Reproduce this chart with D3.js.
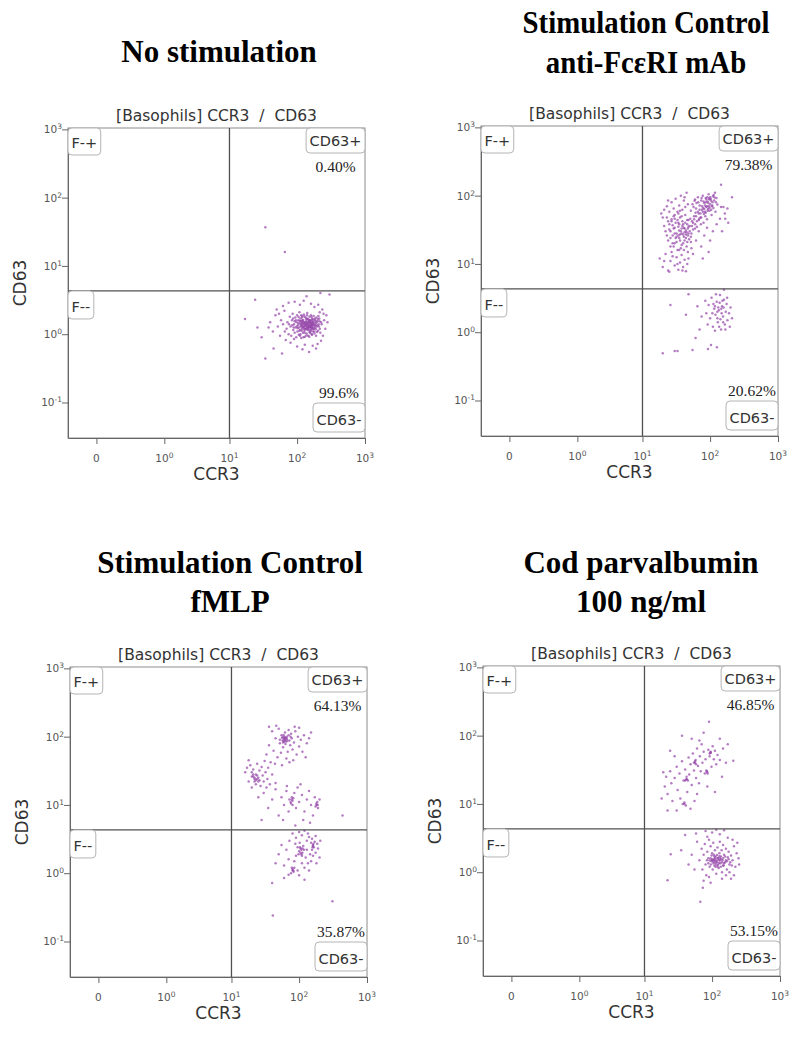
<!DOCTYPE html>
<html>
<head>
<meta charset="utf-8">
<script src="https://cdn.jsdelivr.net/npm/d3@7"></script>
<style>
  body { margin: 0; background: #fff; }
</style>
</head>
<body>
<div id="main"></div>
<script>
// panel headings (one entry per line)
const panelTitles = [
  ["No stimulation"],
  ["Stimulation Control", "anti-Fc\u03b5RI mAb"],
  ["Stimulation Control", "fMLP"],
  ["Cod parvalbumin", "100 ng/ml"]
];
const plotTitle = "[Basophils] CCR3\u00a0\u00a0/\u00a0\u00a0CD63";
const xLabel = "CCR3";
const yLabel = "CD63";
const quadNames = ["F-+", "CD63+", "F--", "CD63-"];
const upperPct = ["0.40%", "79.38%", "64.13%", "46.85%"];
const lowerPct = ["99.6%", "20.62%", "35.87%", "53.15%"];
const gateX = 10, gateY = 4.3;
const xMajor = [0, 1, 10, 100, 1000];
const xMajorExp = [null, "0", "1", "2", "3"];
const yMajor = [1000, 100, 10, 1, 0.1];
const yMajorExp = ["3", "2", "1", "0", "-1"];

// events, [CCR3, CD63]
const noStimPoints = [
  [34,37],[66,16],[34,0.44],[17,1.67],[24,3.2],[220,4.0],[138,3.6],[300,3.8],[45,0.62],[60,0.52],
  [150,0.55],[190,0.62],[270,1.9],[26,1.25],[30,0.9],
  [40,1.5],[44,1.1],[48,1.9],[52,1.3],[38,1.25],[56,0.95],[50,2.3],[62,2.6],[75,2.9],[92,3.0],
  [110,2.7],[125,3.1],[160,2.8],[180,2.5],[205,2.7],[235,2.3],[250,1.6],[260,1.2],[240,0.95],[225,0.8],
  [200,0.72],[170,0.68],[130,0.7],[100,0.66],[80,0.75],[68,0.82],[58,1.6],[54,2.0],[65,2.2],[230,1.4],
  [215,2.1],[280,1.5],[245,2.0],[120,0.6],[90,0.85],
  [70,1.2],[72,1.5],[75,1.0],[78,1.8],[80,1.3],[82,0.95],[84,1.6],[86,2.0],[88,1.15],[90,1.4],
  [92,1.05],[94,1.75],[95,1.25],[97,0.9],[98,1.5],[100,1.9],[101,1.1],[103,1.35],[104,1.6],[106,0.98],
  [107,1.25],[108,2.1],[110,1.45],[111,1.15],[112,1.7],[114,1.3],[115,0.88],[116,1.55],[118,1.2],[119,1.85],
  [120,1.4],[122,1.05],[123,1.62],[125,1.28],[126,1.95],[128,1.12],[129,1.48],[130,0.92],[132,1.35],[133,1.75],
  [135,1.2],[136,1.55],[138,1.02],[140,1.4],[141,2.05],[143,1.25],[145,1.65],[146,0.95],[148,1.45],[150,1.15],
  [152,1.8],[154,1.32],[155,1.05],[157,1.58],[159,1.22],[160,1.9],[162,1.4],[164,1.0],[166,1.68],[168,1.25],
  [170,1.5],[172,1.1],[175,1.85],[177,1.35],[180,1.02],[182,1.6],[185,1.25],[188,1.45],[190,0.95],[193,1.75],
  [196,1.3],[200,1.55],[204,1.12],[208,1.4],[212,1.7],[216,1.2],[220,1.05],[225,1.5],[112,1.0],[118,1.75],
  [124,1.42],[131,1.18],[137,1.66],[142,1.3],[147,1.52],[153,1.08],[158,1.38],[163,1.6],[169,1.18],[174,1.42],
  [96,1.6],[102,1.22],[109,1.58],[113,1.38],[117,1.12],[121,1.52],[127,1.32],[134,1.42],[139,1.22],[144,1.5],
  [149,1.28],[156,1.48],[161,1.28],[167,1.36],[178,1.2],[186,1.36],[85,1.35],[76,1.4],[66,1.1],[62,1.4],
  [99,1.3],[104,1.45],[108,1.12],[113,1.55],[116,1.35],[119,1.6],[122,1.25],[126,1.5],[129,1.05],[133,1.3],
  [136,1.48],[139,1.7],[142,1.15],[146,1.35],[149,1.62],[151,1.25],[155,1.5],[158,1.1],[161,1.45],[165,1.3],
  [168,1.55],[171,1.22],[176,1.48],[181,1.32],[184,1.7],[189,1.18],[194,1.5],[199,1.35],[203,1.65],[92,1.55],
  [89,1.25],[87,1.7],[105,1.78],[115,1.9],[128,1.82],[140,1.9],[152,1.62],[163,1.78],[173,1.65],[187,1.58],
  [110,0.95],[124,0.9],[137,0.96],[151,0.92],[166,0.98],[179,1.1],[196,1.08],[210,1.3],[214,1.55],[206,1.85],
  [120,1.3],[131,1.42],[144,1.2],[157,1.3],[170,1.4],[127,1.2],[138,1.35],[148,1.38],[160,1.15],[117,1.45]
];

const antiFcePoints = [
  [22,30],[24,22],[25,38],[26,18],[27,45],[28,26],[29,33],[30,20],[31,40],[32,28],
  [33,16],[34,35],[35,24],[36,48],[37,30],[38,19],[39,42],[40,27],[41,34],[42,22],
  [43,52],[44,31],[45,18],[46,38],[47,26],[48,44],[50,30],[52,21],[54,36],[23,26],
  [25,32],[27,15],[29,50],[31,24],[33,44],[35,31],[37,17],[39,36],[41,25],[43,40],
  [45,29],[47,33],[49,23],[51,46],[53,28],[21,36],[24,42],[28,37],[32,21],[36,27],
  [40,20],[44,24],[30,28],[34,26],[38,33],[42,29],[46,21],[26,24],[35,38],[48,35],
  [52,60],[55,75],[58,50],[60,88],[62,65],[64,42],[66,95],[68,55],[70,72],[72,48],
  [74,85],[76,62],[78,100],[80,40],[82,78],[84,58],[86,92],[88,68],[90,45],[92,82],
  [95,105],[98,60],[100,75],[102,90],[105,52],[108,80],[110,98],[112,66],[115,85],[118,110],
  [120,58],[124,92],[128,74],[56,40],[61,56],[67,80],[73,38],[79,66],[85,50],[91,95],
  [96,70],[104,62],[113,102],[57,68],[63,78],[69,46],[75,92],[81,54],[87,80],[93,64],
  [99,88],[106,70],[116,94],[122,80],[59,84],
  [19,55],[21,62],[23,70],[25,58],[27,80],[29,65],[31,90],[33,58],[35,72],[37,100],
  [39,62],[41,85],[43,68],[45,110],[47,75],[24,85],[30,52],[36,60],[42,95],[20,48],
  [18,12],[20,9],[22,14],[24,8],[26,11],[28,13],[30,9.5],[32,12.5],[34,8.2],[36,10.5],
  [38,13.5],[40,9],[42,11.5],[44,7.8],[46,10],[48,12],[25,7.7],[33,10],[39,8],[21,11],
  [56,14],[62,22],[68,30],[74,18],[82,26],[90,34],[100,22],[110,30],[125,38],[140,46],
  [150,30],[165,55],[180,65],[60,33],[78,12],[95,15],[145,68],[185,40],[210,95],[145,145],
  [157,68],[167,46],
  [26,30],[28,20],[30,34],[32,25],[34,40],[36,22],[38,28],[40,38],[42,33],[44,27],
  [46,44],[48,28],[50,36],[52,25],[54,42],[56,32],[58,45],[60,38],[62,50],[64,35],
  [66,58],[68,44],[70,62],[72,55],[74,48],[76,70],[78,58],[80,82],[82,64],[84,72],
  [86,56],[88,88],[90,70],[92,60],[94,78],[96,90],[98,66],[100,95],[104,84],[108,72],
  [30,46],[34,55],[38,50],[27,42],[23,48],[29,18],[35,16],[41,16],[47,15],[53,17],
  [95,2.5],[100,1.6],[105,3.2],[110,1.2],[115,2.2],[120,1.8],[125,2.8],[130,1.4],[135,2.1],[140,3.5],
  [145,1.1],[150,2.4],[155,1.7],[160,3.0],[165,1.3],[170,2.0],[175,2.6],[180,1.5],[190,1.9],[200,2.3],
  [210,1.6],[88,1.9],[92,1.3],[118,1.05],[128,1.6],[138,2.7],[148,1.9],[158,2.3],[168,1.1],[122,3.6],
  [142,1.55],[152,2.9],[132,2.3],[112,2.6],[85,2.9],[75,1.7],[65,2.4],[70,1.1],[178,3.2],[195,1.2],
  [26,2.5],[20,0.49],[33,0.53],[55,0.55],[93,0.57],[126,0.6],[44,1.8],[61,0.82],[103,0.65],[30,0.53],
  [48,3.6],[160,4.2],[136,1.2],[146,2.2],[128,2.0],[118,2.4],[156,1.4],[108,1.9]
];

const fmlpPoints = [
  [40,120],[45,95],[50,130],[52,80],[55,105],[58,70],[60,92],[62,115],[64,85],[66,100],
  [68,60],[70,125],[72,88],[74,75],[76,110],[78,95],[80,65],[84,82],[88,120],[92,55],
  [96,100],[100,72],[106,90],[112,60],[118,105],[36,75],[42,62],[48,50],[54,58],[65,48],
  [58,98],[60,84],[62,96],[63,78],[57,88],[66,92],[59,106],[130,80],[140,95],[150,115],
  [36,140],[46,145],[86,140],[125,50],[33,55],[44,40],[82,45],[72,42],[100,135],[56,38],
  [60,88],[62,90],[64,95],[58,82],[56,96],[61,100],[67,86],[70,105],[52,90],[75,100],
  [16,30],[18,22],[19,38],[20,26],[21,33],[22,24],[23,20],[23,28],[24,40],[25,25],
  [26,32],[27,19],[28,36],[29,27],[30,22],[31,44],[32,30],[34,24],[35,35],[37,20],
  [38,42],[40,28],[21,26],[22,22],[24,27],[26,23],[18,45],[20,18],[17,35],[33,18],
  [22,25],[23,23],[21,28],[24,24],[25,22],[20,30],
  [30,15],[35,9],[40,12],[45,17],[50,7],[55,13],[60,10],[65,16],[70,8],[72,12],
  [75,11],[78,13],[80,10],[82,12.5],[85,15],[90,9],[95,18],[100,11],[110,14],[120,8],
  [130,12],[140,16],[150,10],[160,7],[170,13],[180,10],[185,11],[190,9],[200,12],[175,9.5],
  [436,7],[25,13],[28,6],[58,6],[115,6],[145,5.5],[88,5],[66,19],[105,20],[45,21],
  [78,12],[76,10.5],[80,11.5],[180,10.5],[188,10],
  [100,4.0],[110,3.6],[120,4.2],[90,3.3],[130,3.0],[80,3.8],[140,3.4],[150,2.8],[160,2.6],[165,2.4],
  [155,2.2],[170,2.9],[175,2.0],[100,2.1],[105,2.3],[108,1.9],[112,2.0],[115,2.5],[95,2.4],[90,1.8],
  [85,1.5],[80,1.1],[78,1.2],[83,1.05],[76,1.0],[125,1.7],[135,1.4],[145,1.9],[120,1.2],[110,1.4],
  [70,1.6],[65,2.2],[60,1.3],[55,2.6],[50,1.9],[130,2.2],[140,1.1],[150,1.5],[160,1.8],[180,1.4],
  [190,2.3],[200,1.7],[205,3.0],[95,1.1],[100,0.93],[70,0.95],[60,0.85],[45,1.4],[310,0.39],[40,0.72],
  [41,0.24],[120,0.8],[175,3.5],[185,2.7],[102,2.8],[118,2.2],[88,2.7],[155,3.2],[135,3.8],[72,3.0],
  [105,2.0],[108,2.2],[110,1.8],[103,2.4],[112,2.3],[98,1.9],[160,2.5],[163,2.7],[158,2.4],[80,1.15],
  [82,1.1],[85,1.2]
];

const codPoints = [
  [18,12],[20,18],[21,25],[22,14],[24,30],[25,20],[26,11],[28,24],[30,35],[31,16],
  [33,28],[34,12],[36,42],[38,22],[39,10],[40,32],[42,23],[43,15],[45,48],[46,27],
  [48,38],[50,19],[52,55],[54,31],[55,11],[57,44],[58,24],[60,65],[62,36],[64,20],
  [66,50],[68,30],[70,75],[72,40],[75,58],[78,28],[80,45],[84,30],[88,62],[92,50],
  [95,56],[98,35],[102,70],[106,45],[110,60],[115,38],[120,52],[130,44],[145,65],[160,40],
  [205,43],[90,160],[19,29],[39,10.5],[41,9.5],[37,10],[84,29],[56,40],[42,23],[95,56],
  [36,100],[50,90],[65,85],[28,50],[24,60],[170,75],[130,90],[75,110],[22,8],[110,15],
  [48,8.5],[30,8],[140,25],[85,18],[60,14],
  [42,25],[44,22],[40,22],[56,42],[58,38],[54,40],[86,28],[82,31],[95,58],[92,55],
  [60,2.8],[65,1.5],[70,2.2],[72,1.1],[75,1.8],[78,2.6],[80,1.3],[82,0.9],[85,2.0],[88,1.6],
  [90,3.0],[92,1.2],[95,2.4],[98,1.45],[100,1.9],[102,1.1],[104,2.7],[106,1.5],[108,1.25],[110,2.1],
  [112,1.7],[115,0.95],[118,1.4],[120,2.3],[122,1.6],[125,1.15],[128,1.9],[130,2.8],[132,1.35],[135,1.7],
  [138,2.1],[140,1.0],[142,1.5],[145,2.5],[148,1.25],[150,1.8],[155,1.4],[160,2.2],[165,1.1],[170,1.65],
  [175,2.0],[180,1.3],[190,1.75],[200,1.5],[210,2.4],[220,1.2],[230,1.9],[245,1.6],[250,1.3],[235,2.7],
  [100,1.55],[105,1.35],[110,1.6],[115,1.3],[112,1.45],[108,1.7],[96,1.3],[125,1.5],[130,1.6],[120,1.2],
  [90,0.85],[140,0.8],[160,0.9],[180,1.0],[95,0.7],[75,0.75],[55,1.1],[50,1.8],[45,1.3],[35,2.1],
  [24.5,1.83],[22,0.76],[67,0.37],[73,0.59],[58,3.7],[80,4.0],[100,3.8],[130,3.6],[170,3.2],[200,3.0],
  [40,3.5],[150,4.1],[115,4.2],[190,0.8],[210,0.9],[85,3.3],
  [100,1.5],[104,1.42],[108,1.55],[112,1.38],[116,1.5],[120,1.62],[95,1.6],[92,1.48],[126,1.35],[130,1.48],
  [135,1.55],[140,1.4],[145,1.6],[150,1.35],[155,1.7],[160,1.5],[98,1.75],[106,1.8],[118,1.78],[128,1.72],
  [88,1.35],[84,1.5],[112,1.2],[122,1.28],[134,1.2],[145,1.25],[165,1.45],[175,1.55],[185,1.4],[195,1.25]
];

const panelPoints = [noStimPoints, antiFcePoints, fmlpPoints, codPoints];

// layout of the four plots on the page
const plotW = 297, plotH = 310;
const panels = [
  {left: 68,  top: 128, titleX: 219, titleY: [62], squeeze: 1},
  {left: 481, top: 126, titleX: 646, titleY: [33, 73], squeeze: 0.93},
  {left: 70,  top: 667, titleX: 230, titleY: [573, 612], squeeze: 1},
  {left: 483, top: 666, titleX: 641, titleY: [573, 612], squeeze: 1}
];

const sans = "'DejaVu Sans', Verdana, sans-serif";
const serif = "'Liberation Serif', 'Times New Roman', serif";

const xScale = d3.scaleSymlog().constant(1 / 9)
    .domain([-0.18, 1000])
    .range([0, plotW]);
const yScale = d3.scaleLog()
    .domain([Math.pow(10, -1.52), Math.pow(10, 3.02)])
    .range([plotH, 0]);

// minor ticks
const xMinor = [-0.12];
[0.1, 1, 10, 100].forEach(function(dec) {
  for (let k = 1; k <= 9; k++) {
    if (dec === 0.1 || k > 1) xMinor.push(k * dec);
  }
});
const yMinor = yScale.ticks().filter(d => yMajor.indexOf(d) < 0);

const svg = d3.select("#main")
  .append("svg")
  .attr("width", 800)
  .attr("height", 1041);

panels.forEach(function(p, i) {
  // heading
  const head = svg.append("text")
      .attr("transform", "translate(" + p.titleX + ",0) scale(" + p.squeeze + ",1)")
      .attr("text-anchor", "middle")
      .attr("font-family", serif)
      .attr("font-weight", "bold")
      .attr("font-size", 31)
      .attr("fill", "#000");
  panelTitles[i].forEach(function(line, j) {
    head.append("tspan")
      .attr("x", 0)
      .attr("y", p.titleY[j])
      .text(line);
  });

  const g = svg.append("g")
      .attr("transform", "translate(" + p.left + "," + p.top + ")");

  g.append("text")
    .attr("x", plotW / 2)
    .attr("y", -7)
    .attr("text-anchor", "middle")
    .attr("font-family", sans)
    .attr("font-size", 15.5)
    .attr("fill", "#333")
    .text(plotTitle);

  g.append("rect")
    .attr("width", plotW)
    .attr("height", plotH)
    .attr("fill", "#fff")
    .attr("stroke", "#8c8c8c")
    .attr("stroke-width", 1);

  g.append("clipPath")
    .attr("id", "clip" + i)
    .append("rect")
    .attr("width", plotW)
    .attr("height", plotH);

  // events
  g.append("g")
    .attr("clip-path", "url(#clip" + i + ")")
    .selectAll("circle")
    .data(panelPoints[i])
    .enter()
    .append("circle")
    .attr("cx", d => xScale(d[0]))
    .attr("cy", d => yScale(d[1]))
    .attr("r", 1.25)
    .attr("fill", "#9444a8")
    .attr("opacity", 0.7);

  // quadrant gate
  g.append("line")
    .attr("x1", xScale(gateX)).attr("x2", xScale(gateX))
    .attr("y1", 0).attr("y2", plotH)
    .attr("stroke", "#505050").attr("stroke-width", 1.3);
  g.append("line")
    .attr("x1", 0).attr("x2", plotW)
    .attr("y1", yScale(gateY)).attr("y2", yScale(gateY))
    .attr("stroke", "#505050").attr("stroke-width", 1.3);

  // axes
  const xAxisG = g.append("g")
      .attr("transform", "translate(0," + plotH + ")");
  xAxisG.call(d3.axisBottom(xScale).tickValues(xMinor).tickSize(3).tickSizeOuter(0).tickFormat(""));
  xAxisG.call(d3.axisBottom(xScale).tickValues(xMajor).tickSize(6).tickSizeOuter(0).tickFormat(""));
  xAxisG.selectAll("path, line").attr("stroke", "#666");

  const yAxisG = g.append("g");
  yAxisG.call(d3.axisLeft(yScale).tickValues(yMinor).tickSize(3).tickSizeOuter(0).tickFormat(""));
  yAxisG.call(d3.axisLeft(yScale).tickValues(yMajor).tickSize(6).tickSizeOuter(0).tickFormat(""));
  yAxisG.selectAll("path, line").attr("stroke", "#666");

  xMajor.forEach(function(v, k) {
    const t = g.append("text")
        .attr("x", xScale(v))
        .attr("y", plotH + 23.5)
        .attr("text-anchor", "middle")
        .attr("font-family", sans)
        .attr("font-size", 10.5)
        .attr("fill", "#555");
    if (xMajorExp[k] === null) {
      t.text("0");
    } else {
      t.append("tspan").text("10");
      t.append("tspan").attr("dy", -4).attr("font-size", 7.5).text(xMajorExp[k]);
    }
  });

  yMajor.forEach(function(v, k) {
    const t = g.append("text")
        .attr("x", -6)
        .attr("y", yScale(v) + 4)
        .attr("text-anchor", "end")
        .attr("font-family", sans)
        .attr("font-size", 10.5)
        .attr("fill", "#555");
    t.append("tspan").text("10");
    t.append("tspan").attr("dy", -4).attr("font-size", 7.5).text(yMajorExp[k]);
  });

  g.append("text")
    .attr("x", plotW / 2)
    .attr("y", plotH + 42)
    .attr("text-anchor", "middle")
    .attr("font-family", sans)
    .attr("font-size", 17)
    .attr("fill", "#333")
    .text(xLabel);

  g.append("text")
    .attr("transform", "translate(-42," + (plotH / 2) + ") rotate(-90)")
    .attr("text-anchor", "middle")
    .attr("font-family", sans)
    .attr("font-size", 17)
    .attr("fill", "#333")
    .text(yLabel);

  // quadrant name boxes
  const gy = yScale(gateY);
  const boxSpec = [
    {name: quadNames[0], right: false, y: 0, h: 27},
    {name: quadNames[1], right: true, y: 0, h: 25},
    {name: quadNames[2], right: false, y: gy, h: 28},
    {name: quadNames[3], right: true, y: plotH - 35, h: 29}
  ];
  const boxCenters = [];
  boxSpec.forEach(function(b) {
    const bg = g.append("g");
    const rect = bg.append("rect");
    const txt = bg.append("text")
        .attr("font-family", sans)
        .attr("font-size", 14.5)
        .attr("fill", "#333")
        .text(b.name);
    const w = txt.node().getComputedTextLength() + 7;
    const bx = b.right ? plotW - w : 0;
    rect.attr("x", bx).attr("y", b.y)
      .attr("width", w).attr("height", b.h)
      .attr("rx", 4)
      .attr("fill", "#fff")
      .attr("stroke", "#b4b4b4");
    txt.attr("x", bx + 3.5).attr("y", b.y + b.h - 7);
    boxCenters.push(bx + w / 2);
  });

  g.append("text")
    .attr("x", boxCenters[1])
    .attr("y", 44)
    .attr("text-anchor", "middle")
    .attr("font-family", serif)
    .attr("font-size", 15.5)
    .attr("fill", "#222")
    .text(upperPct[i]);
  g.append("text")
    .attr("x", boxCenters[3])
    .attr("y", 270)
    .attr("text-anchor", "middle")
    .attr("font-family", serif)
    .attr("font-size", 15.5)
    .attr("fill", "#222")
    .text(lowerPct[i]);
});
</script>
</body>
</html>
